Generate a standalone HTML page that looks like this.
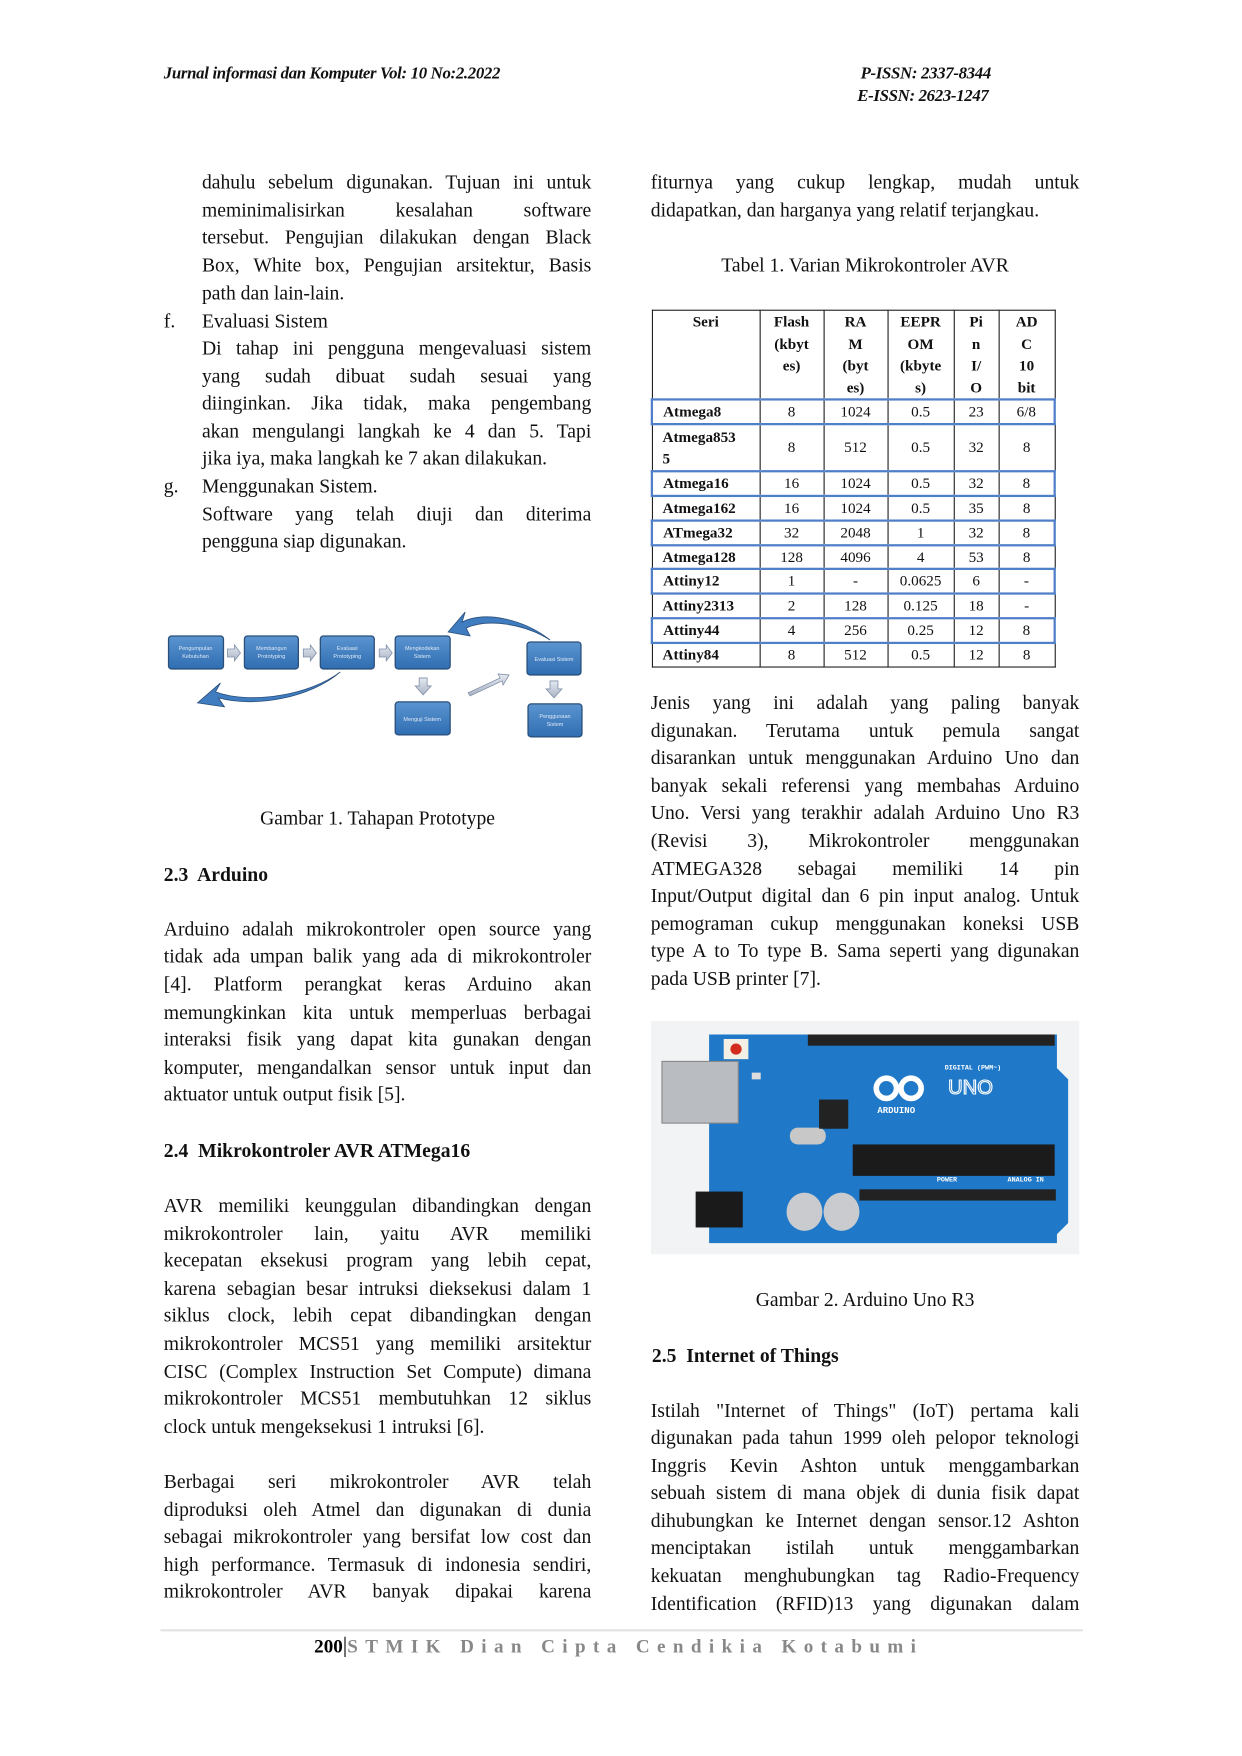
<!DOCTYPE html>
<html><head><meta charset="utf-8">
<style>
html,body{margin:0;padding:0;background:#fff;}
body{width:1242px;height:1756px;overflow:hidden;position:relative;}
#p{position:absolute;left:0;top:0;width:1107px;height:1565px;transform:scale(1.122);transform-origin:0 0;font-family:"Liberation Serif",serif;color:#111;}
.l{position:absolute;font-size:17.5px;line-height:22px;white-space:nowrap;}
.j{text-align:justify;text-align-last:justify;white-space:normal;}
.a{left:180px;width:347px;}
.b{left:146px;width:381px;}
.r{left:580px;width:382px;}
.h{font-family:"Liberation Serif",serif;font-style:italic;font-weight:bold;font-size:15px;position:absolute;letter-spacing:-0.3px;}
table{position:absolute;left:580px;top:276px;border-collapse:collapse;font-size:13.5px;line-height:19.5px;}
td{border:1.5px solid #222;text-align:center;padding:0;}
td.s{text-align:left;padding-left:9px;font-weight:bold;}
tr.bl td{border-top:2.5px solid #4f7fc8;border-bottom:2.5px solid #4f7fc8;}
tr.bl td:first-child{border-left:2.5px solid #4f7fc8;}
tr.bl td:last-child{border-right:2.5px solid #4f7fc8;}
th{font-weight:bold;border:1.5px solid #222;vertical-align:top;padding:0;}
</style></head><body><div id="p">
<div class="h" style="left:146px;top:58px;">Jurnal informasi dan Komputer Vol: 10 No:2.2022</div>
<div class="h" style="left:767px;top:58px;">P-ISSN: 2337-8344</div>
<div class="h" style="left:764px;top:78px;">E-ISSN: 2623-1247</div>

<div class="l j a" style="top:151px">dahulu sebelum digunakan. Tujuan ini untuk</div>
<div class="l j a" style="top:176px">meminimalisirkan kesalahan software</div>
<div class="l j a" style="top:200px">tersebut. Pengujian dilakukan dengan Black</div>
<div class="l j a" style="top:225px">Box, White box, Pengujian arsitektur, Basis</div>
<div class="l a" style="top:250px">path dan lain-lain.</div>
<div class="l" style="left:146px;top:275px">f.</div>
<div class="l a" style="top:275px">Evaluasi Sistem</div>
<div class="l j a" style="top:299px">Di tahap ini pengguna mengevaluasi sistem</div>
<div class="l j a" style="top:324px">yang sudah dibuat sudah sesuai yang</div>
<div class="l j a" style="top:348px">diinginkan. Jika tidak, maka pengembang</div>
<div class="l j a" style="top:373px">akan mengulangi langkah ke 4 dan 5. Tapi</div>
<div class="l a" style="top:397px">jika iya, maka langkah ke 7 akan dilakukan.</div>
<div class="l" style="left:146px;top:422px">g.</div>
<div class="l a" style="top:422px">Menggunakan Sistem.</div>
<div class="l j a" style="top:447px">Software yang telah diuji dan diterima</div>
<div class="l a" style="top:471px">pengguna siap digunakan.</div>

<svg style="position:absolute;left:124.8px;top:517px" width="427.8" height="178" viewBox="0 0 480 200">
<defs><linearGradient id="g" x1="0" y1="0" x2="0" y2="1"><stop offset="0" stop-color="#5b94d0"/><stop offset="1" stop-color="#2f6eb2"/></linearGradient>
<linearGradient id="ga" x1="0" y1="0" x2="0" y2="1"><stop offset="0" stop-color="#e4e8f0"/><stop offset="1" stop-color="#aab4c6"/></linearGradient></defs>
<g stroke="#2a4f7a" stroke-width="1.3" fill="url(#g)">
<rect x="28" y="56" width="55" height="33" rx="3"/><rect x="104" y="56" width="54" height="33" rx="3"/>
<rect x="180" y="56" width="54" height="33" rx="3"/><rect x="255" y="56" width="55" height="33" rx="3"/>
<rect x="387" y="62" width="54" height="33" rx="3"/><rect x="255" y="122" width="55" height="33" rx="3"/>
<rect x="388" y="124" width="54" height="33" rx="3"/>
</g>
<g fill="#dfe9f6" font-family="Liberation Sans,sans-serif" font-size="5.5" text-anchor="middle">
<text x="55" y="70">Pengumpulan</text><text x="55" y="78">Kebutuhan</text>
<text x="131" y="70">Membangun</text><text x="131" y="78">Prototyping</text>
<text x="207" y="70">Evaluasi</text><text x="207" y="78">Prototyping</text>
<text x="282" y="70">Mengkodekan</text><text x="282" y="78">Sistem</text>
<text x="414" y="81">Evaluasi Sistem</text><text x="282" y="141">Menguji Sistem</text>
<text x="415" y="138">Penggunaan</text><text x="415" y="146">Sistem</text>
</g>
<g fill="url(#ga)" stroke="#8090a8" stroke-width="0.8">
<path d="M87,69h7v-4l6,8l-6,8v-4h-7z"/><path d="M163,69h7v-4l6,8l-6,8v-4h-7z"/><path d="M239,69h7v-4l6,8l-6,8v-4h-7z"/>
<path d="M279,98h8v8h4l-8,9l-8,-9h4z"/><path d="M410,101h8v8h4l-8,9l-8,-9h4z"/>
<path d="M328,113l32,-15l-2,-4l11,1l-6,10l-1,-4l-32,15z"/>
</g>
<g fill="#3f7cc0" stroke="#2a4f7a" stroke-width="0.8">
<path d="M200,92C170,115 110,125 75,112L80,103L57,123L84,127L78,118C115,128 170,118 200,92z"/>
<path d="M410,60C385,40 345,30 322,42L325,32L308,52L330,56L326,48C348,38 385,44 410,60z"/>
</g>
</svg>
<div class="l" style="left:146px;width:381px;text-align:center;top:718px">Gambar 1. Tahapan Prototype</div>
<div class="l" style="left:146px;top:768px;font-weight:bold">2.3&nbsp; Arduino</div>

<div class="l j b" style="top:817px">Arduino adalah mikrokontroler open source yang</div>
<div class="l j b" style="top:841px">tidak ada umpan balik yang ada di mikrokontroler</div>
<div class="l j b" style="top:866px">[4]. Platform perangkat keras Arduino akan</div>
<div class="l j b" style="top:891px">memungkinkan kita untuk memperluas berbagai</div>
<div class="l j b" style="top:915px">interaksi fisik yang dapat kita gunakan dengan</div>
<div class="l j b" style="top:940px">komputer, mengandalkan sensor untuk input dan</div>
<div class="l b" style="top:964px">aktuator untuk output fisik [5].</div>
<div class="l" style="left:146px;top:1014px;font-weight:bold">2.4&nbsp; Mikrokontroler AVR ATMega16</div>
<div class="l j b" style="top:1063px">AVR memiliki keunggulan dibandingkan dengan</div>
<div class="l j b" style="top:1088px">mikrokontroler lain, yaitu AVR memiliki</div>
<div class="l j b" style="top:1112px">kecepatan eksekusi program yang lebih cepat,</div>
<div class="l j b" style="top:1137px">karena sebagian besar intruksi dieksekusi dalam 1</div>
<div class="l j b" style="top:1161px">siklus clock, lebih cepat dibandingkan dengan</div>
<div class="l j b" style="top:1186px">mikrokontroler MCS51 yang memiliki arsitektur</div>
<div class="l j b" style="top:1211px">CISC (Complex Instruction Set Compute) dimana</div>
<div class="l j b" style="top:1235px">mikrokontroler MCS51 membutuhkan 12 siklus</div>
<div class="l b" style="top:1260px">clock untuk mengeksekusi 1 intruksi [6].</div>
<div class="l j b" style="top:1309px">Berbagai seri mikrokontroler AVR telah</div>
<div class="l j b" style="top:1334px">diproduksi oleh Atmel dan digunakan di dunia</div>
<div class="l j b" style="top:1358px">sebagai mikrokontroler yang bersifat low cost dan</div>
<div class="l j b" style="top:1383px">high performance. Termasuk di indonesia sendiri,</div>
<div class="l j b" style="top:1407px">mikrokontroler AVR banyak dipakai karena</div>

<div class="l j r" style="top:151px">fiturnya yang cukup lengkap, mudah untuk</div>
<div class="l r" style="top:176px">didapatkan, dan harganya yang relatif terjangkau.</div>
<div class="l r" style="top:225px;text-align:center">Tabel 1. Varian Mikrokontroler AVR</div>

<table>
<tr style="height:77px"><th style="width:95px">Seri</th><th style="width:56px">Flash<br>(kbyt<br>es)</th><th style="width:56px">RA<br>M<br>(byt<br>es)</th><th style="width:58px">EEPR<br>OM<br>(kbyte<br>s)</th><th style="width:39px">Pi<br>n<br>I/<br>O</th><th style="width:49px">AD<br>C<br>10<br>bit</th></tr>
<tr class="bl" style="height:22px"><td class="s">Atmega8</td><td>8</td><td>1024</td><td>0.5</td><td>23</td><td>6/8</td></tr>
<tr style="height:42px"><td class="s">Atmega853<br>5</td><td>8</td><td>512</td><td>0.5</td><td>32</td><td>8</td></tr>
<tr class="bl" style="height:21px"><td class="s">Atmega16</td><td>16</td><td>1024</td><td>0.5</td><td>32</td><td>8</td></tr>
<tr style="height:22px"><td class="s">Atmega162</td><td>16</td><td>1024</td><td>0.5</td><td>35</td><td>8</td></tr>
<tr class="bl" style="height:22px"><td class="s">ATmega32</td><td>32</td><td>2048</td><td>1</td><td>32</td><td>8</td></tr>
<tr style="height:21px"><td class="s">Atmega128</td><td>128</td><td>4096</td><td>4</td><td>53</td><td>8</td></tr>
<tr class="bl" style="height:22px"><td class="s">Attiny12</td><td>1</td><td>-</td><td>0.0625</td><td>6</td><td>-</td></tr>
<tr style="height:21px"><td class="s">Attiny2313</td><td>2</td><td>128</td><td>0.125</td><td>18</td><td>-</td></tr>
<tr class="bl" style="height:22px"><td class="s">Attiny44</td><td>4</td><td>256</td><td>0.25</td><td>12</td><td>8</td></tr>
<tr style="height:22px"><td class="s">Attiny84</td><td>8</td><td>512</td><td>0.5</td><td>12</td><td>8</td></tr>
</table>

<div class="l j r" style="top:615px">Jenis yang ini adalah yang paling banyak</div>
<div class="l j r" style="top:640px">digunakan. Terutama untuk pemula sangat</div>
<div class="l j r" style="top:664px">disarankan untuk menggunakan Arduino Uno dan</div>
<div class="l j r" style="top:689px">banyak sekali referensi yang membahas Arduino</div>
<div class="l j r" style="top:713px">Uno. Versi yang terakhir adalah Arduino Uno R3</div>
<div class="l j r" style="top:738px">(Revisi 3), Mikrokontroler menggunakan</div>
<div class="l j r" style="top:763px">ATMEGA328 sebagai memiliki 14 pin</div>
<div class="l j r" style="top:787px">Input/Output digital dan 6 pin input analog. Untuk</div>
<div class="l j r" style="top:812px">pemograman cukup menggunakan koneksi USB</div>
<div class="l j r" style="top:836px">type A to To type B. Sama seperti yang digunakan</div>
<div class="l r" style="top:861px">pada USB printer [7].</div>

<svg style="position:absolute;left:580px;top:910px" width="382" height="208" viewBox="0 0 382 208">
<rect width="382" height="208" fill="#f2f3f4"/>
<path d="M52,12H362V42L372,52V180L362,190V198H52Z" fill="#1f78c8"/>
<rect x="10" y="36" width="68" height="55" fill="#b9bcc0" stroke="#888"/>
<rect x="65" y="16" width="22" height="18" fill="#f4efe4"/><circle cx="76" cy="25" r="5" fill="#d42b1f"/>
<rect x="140" y="12" width="220" height="10" fill="#222"/>
<rect x="186" y="150" width="175" height="10" fill="#222"/>
<rect x="90" y="46" width="8" height="6" fill="#ddd"/>
<rect x="180" y="110" width="180" height="28" fill="#1b1b1b"/>
<rect x="40" y="152" width="42" height="32" fill="#1a1a1a"/>
<ellipse cx="137" cy="170" rx="16" ry="17" fill="#c9cbce"/><ellipse cx="170" cy="170" rx="16" ry="17" fill="#c9cbce"/>
<rect x="124" y="95" width="32" height="15" rx="7" fill="#c8c8c8"/>
<rect x="150" y="70" width="26" height="26" fill="#222"/>
<g fill="none" stroke="#fff" stroke-width="5"><circle cx="210" cy="60" r="9"/><circle cx="232" cy="60" r="9"/></g>
<text x="265" y="65" fill="none" stroke="#fff" stroke-width="1" font-family="Liberation Sans,sans-serif" font-size="18">UNO</text>
<text x="202" y="82" fill="#fff" font-family="Liberation Mono,monospace" font-size="8" font-weight="bold">ARDUINO</text>
<text x="262" y="43" fill="#fff" font-family="Liberation Mono,monospace" font-size="6" font-weight="bold">DIGITAL (PWM~)</text>
<text x="255" y="143" fill="#fff" font-family="Liberation Mono,monospace" font-size="6" font-weight="bold">POWER</text>
<text x="318" y="143" fill="#fff" font-family="Liberation Mono,monospace" font-size="6" font-weight="bold">ANALOG IN</text>
</svg>
<div class="l r" style="top:1147px;text-align:center">Gambar 2. Arduino Uno R3</div>
<div class="l" style="left:581px;top:1197px;font-weight:bold">2.5&nbsp; Internet of Things</div>
<div class="l j r" style="top:1246px">Istilah "Internet of Things" (IoT) pertama kali</div>
<div class="l j r" style="top:1270px">digunakan pada tahun 1999 oleh pelopor teknologi</div>
<div class="l j r" style="top:1295px">Inggris Kevin Ashton untuk menggambarkan</div>
<div class="l j r" style="top:1319px">sebuah sistem di mana objek di dunia fisik dapat</div>
<div class="l j r" style="top:1344px">dihubungkan ke Internet dengan sensor.12 Ashton</div>
<div class="l j r" style="top:1368px">menciptakan istilah untuk menggambarkan</div>
<div class="l j r" style="top:1393px">kekuatan menghubungkan tag Radio-Frequency</div>
<div class="l j r" style="top:1418px">Identification (RFID)13 yang digunakan dalam</div>

<div style="position:absolute;left:143px;top:1452px;width:822px;height:2px;background:#e4e4e4"></div>
<div class="l" style="left:280px;top:1456px;font-size:17px;"><b style="color:#000">200</b><span style="color:#000;font-size:20px">|</span><span style="color:#888;font-weight:bold;letter-spacing:6.6px">STMIK Dian Cipta Cendikia Kotabumi</span></div>
</div></body></html>
